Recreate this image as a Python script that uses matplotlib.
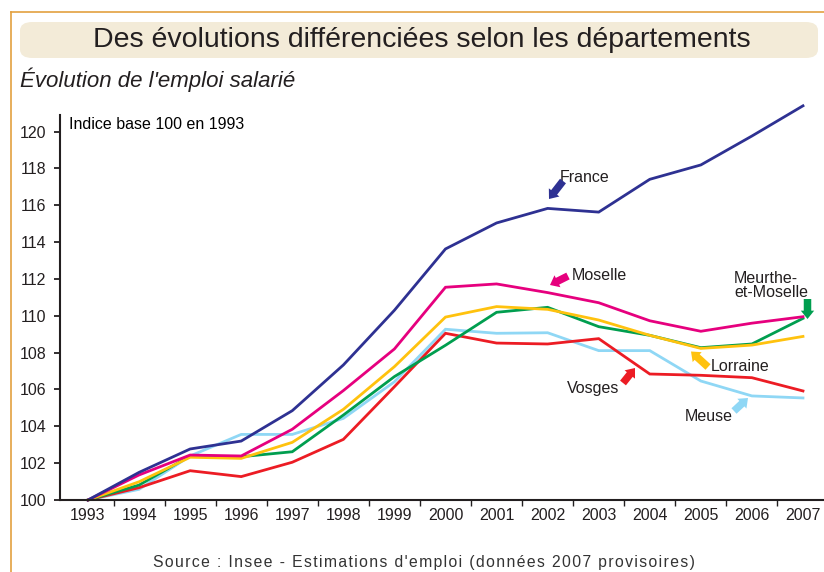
import matplotlib
matplotlib.use("Agg")
import matplotlib.pyplot as plt
from matplotlib.patches import FancyBboxPatch
from matplotlib.lines import Line2D

plt.rcParams['font.family'] = ['Liberation Sans', 'DejaVu Sans']

years = ['1993', '1994', '1995', '1996', '1997', '1998', '1999', '2000',
         '2001', '2002', '2003', '2004', '2005', '2006', '2007']

france = [100, 101.5, 102.77, 103.2, 104.85, 107.33, 110.3, 113.63,
          115.04, 115.83, 115.63, 117.41, 118.19, 119.76, 121.4]
moselle = [100, 101.36, 102.44, 102.39, 103.84, 105.94, 108.2, 111.55,
           111.73, 111.26, 110.71, 109.73, 109.16, 109.6, 109.95]
lorraine = [100, 100.99, 102.32, 102.26, 103.13, 104.92, 107.24, 109.93,
            110.5, 110.35, 109.77, 108.94, 108.23, 108.41, 108.88]
meurthe = [100, 100.81, 102.39, 102.35, 102.62, 104.61, 106.7, 108.4,
           110.19, 110.46, 109.41, 108.94, 108.27, 108.47, 109.86]
meuse = [100, 100.58, 102.39, 103.56, 103.56, 104.43, 106.42, 109.27,
         109.05, 109.08, 108.11, 108.11, 106.46, 105.65, 105.54]
vosges = [100, 100.67, 101.59, 101.27, 102.05, 103.29, 106.15, 109.05,
          108.52, 108.47, 108.76, 106.84, 106.77, 106.64, 105.92]

series = [
    (meuse, '#8fd7f5'),
    (vosges, '#ec1c24'),
    (meurthe, '#009e4f'),
    (lorraine, '#ffc20e'),
    (moselle, '#e6007e'),
    (france, '#2e3192'),
]

W, H = 824, 572
fig = plt.figure(figsize=(W / 100, H / 100), dpi=100)

# orange frame (top + left)
fig.add_artist(Line2D([11 / W, 11 / W], [0, 1 - 12 / H], color='#e3a13f', lw=1.2))
fig.add_artist(Line2D([11 / W, 1], [1 - 12 / H, 1 - 12 / H], color='#e3a13f', lw=1.2))

# title box
box = FancyBboxPatch((20 / W, 1 - 58 / H), (818 - 20) / W, 36 / H,
                     boxstyle='round,pad=0,rounding_size=0.015',
                     transform=fig.transFigure, fc='#f3ebd8', ec='none')
fig.add_artist(box)
fig.text(422 / W, 1 - 40 / H, 'Des évolutions différenciées selon les départements',
         ha='center', va='center', fontsize=20.5, color='#231f20')
fig.text(20 / W, 1 - 80 / H, "Évolution de l'emploi salarié", ha='left', va='center',
         fontsize=16, style='italic', color='#231f20')
source = "Source : Insee - Estimations d'emploi (données 2007 provisoires)"
fig.text(424 / W, 1 - 562 / H, '\u200a'.join(source),
         ha='center', va='center', fontsize=11.3, color='#333333')

# axes geometry from pixel reading
x0, dx = 88, 51.07
ypix100, dy = 500, 18.42
xlo, xhi = (60 - x0) / dx, (824 - x0) / dx
ylo, yhi = 100, 121.6
ax = fig.add_axes([60 / W, (H - 500) / H, (824 - 60) / W, (yhi - ylo) * dy / H])
ax.set_xlim(xlo, xhi)
ax.set_ylim(ylo, yhi)

xs = list(range(len(years)))
for vals, col in series:
    ax.plot(xs, vals, color=col, lw=2.0, solid_joinstyle='miter', clip_on=False)

for s in ['top', 'right']:
    ax.spines[s].set_visible(False)
ax.spines['left'].set_bounds(100, 120.9)
for s in ['left', 'bottom']:
    ax.spines[s].set_linewidth(1.5)
    ax.spines[s].set_color('#231f20')

ax.set_yticks(range(100, 121, 2))
ax.tick_params(axis='y', length=4, width=1.3, labelsize=11.5, pad=6, colors='#231f20')
ax.set_xticks(xs)
ax.set_xticklabels(years)
ax.set_xticks([i + 0.5 for i in xs[:-1]], minor=True)
ax.tick_params(axis='x', which='major', length=0, labelsize=11.5, pad=6, colors='#231f20')
ax.tick_params(axis='x', which='minor', length=4, width=1, color='#231f20')

ax.text((69 - x0) / dx, 100 + (ypix100 - 125) / dy, 'Indice base 100 en 1993',
        ha='left', va='center', fontsize=11.5)


def px(xp, yp):
    return ((xp - x0) / dx, 100 + (ypix100 - yp) / dy)


labels = [
    # text, text pos px, ha, arrow tail px, arrow head px, color
    ('France', (560, 178), 'left', (563, 181), (549, 199), '#2e3192'),
    ('Moselle', (572, 275.5), 'left', (568, 276), (550, 285), '#e6007e'),
    ('Meurthe-\net-Moselle', (734, 285.5), 'left', (807.5, 299), (807.5, 319), '#009e4f'),
    ('Lorraine', (711, 366.5), 'left', (708, 367), (691, 351.5), '#ffc20e'),
    ('Vosges', (619, 388.5), 'right', (623, 383), (635, 368), '#ec1c24'),
    ('Meuse', (733, 416.5), 'right', (734, 411), (748, 398), '#8fd7f5'),
]
for txt, tp, ha, tail, head, col in labels:
    ax.text(*px(*tp), txt, ha=ha, va='center', fontsize=11.5, color='#231f20',
            linespacing=0.9)
    ax.annotate('', xy=px(*head), xytext=px(*tail),
                arrowprops=dict(arrowstyle='simple,head_length=0.5,head_width=0.8,tail_width=0.45',
                                fc=col, ec='none', shrinkA=0, shrinkB=0,
                                mutation_scale=12))

fig.savefig('out.png', dpi=100)
